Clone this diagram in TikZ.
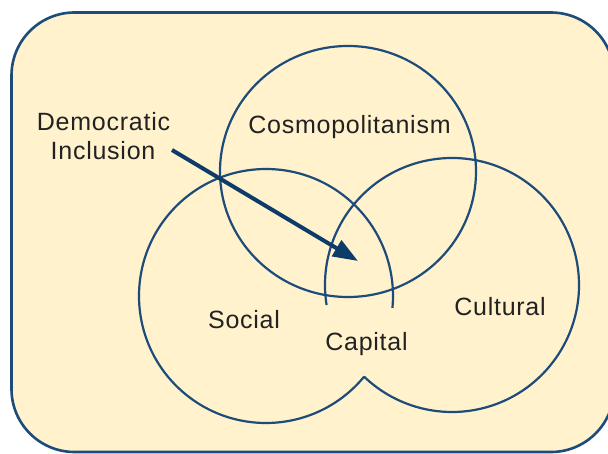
\documentclass[tikz,border=0pt]{standalone}
\usepackage{fontspec}
\setmainfont{Liberation Sans}[LetterSpace=3]
\usetikzlibrary{arrows.meta}

\definecolor{panelfill}{RGB}{255,242,205}
\definecolor{ringblue}{RGB}{30,76,122}
\definecolor{arrowblue}{RGB}{14,60,106}
\definecolor{inkgray}{RGB}{34,34,34}

\begin{document}
\begin{tikzpicture}[x=1pt,y=-1pt,
  ring/.style={draw=ringblue, line width=2.2pt},
  tagtext/.style={font=\fontsize{25}{30}\selectfont, text=inkgray, inner sep=0pt, anchor=base},
  pointer/.style={draw=arrowblue, line width=4pt, -{Triangle[length=25pt,width=18pt]}}]
  % page area and background panel
  \clip (0,0) rectangle (608,454);
  \fill[white] (0,0) rectangle (608,454);
  \draw[fill=panelfill, draw=ringblue, line width=2.6pt, rounded corners=63pt]
    (11.5,12.5) rectangle (614,452);

  % circle centres
  \coordinate (cosmoc) at (348,171.5);
  \coordinate (socialc) at (266,296);
  \coordinate (culturalc) at (452,285);

  % Cosmopolitanism circle
  \draw[ring] (cosmoc) circle[x radius=128, y radius=125.5];

  % Social and Cultural circles: outer union outline plus the upper inner arcs
  \draw[ring] ([shift={(39.43:127)}]socialc)
    arc[start angle=39.43, end angle=365.4, radius=127];
  \draw[ring] ([shift={(170.9:127)}]culturalc)
    arc[start angle=170.9, end angle=493.81, radius=127];

  % labels
  \node[tagtext] (cosmo) at (349.5,133.5) {Cosmopolitanism};
  \node[tagtext] (demo) at (103.5,131) {Democratic};
  \node[tagtext] (incl) at (103,160) {Inclusion};
  \node[tagtext] (social) at (244,329) {Social};
  \node[tagtext] (capital) at (366.5,351) {Capital};
  \node[tagtext] (cultural) at (500,316) {Cultural};

  % pointer from the inclusion label into the shared core
  \coordinate (tail) at (172,150);
  \coordinate (core) at (358,261);
  \draw[pointer] (tail) -- (core);
\end{tikzpicture}
\end{document}
